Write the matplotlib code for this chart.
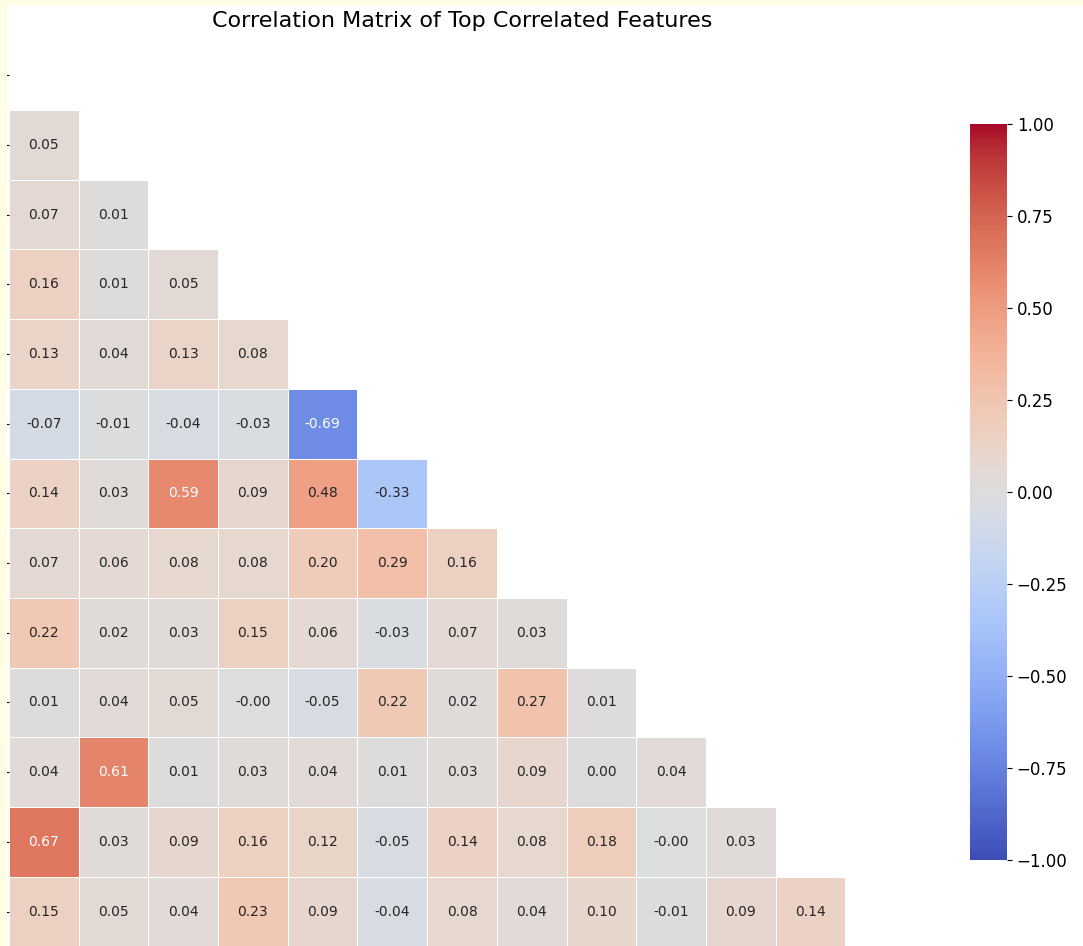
import numpy as np
import matplotlib
matplotlib.use("Agg")
import matplotlib.pyplot as plt
from matplotlib.colors import ListedColormap
from matplotlib.patches import Rectangle
import seaborn as sns

# lower-triangle correlation values (row i has i entries)
row_1 = [0.05]
row_2 = [0.07, 0.01]
row_3 = [0.16, 0.01, 0.05]
row_4 = [0.13, 0.04, 0.13, 0.08]
row_5 = [-0.07, -0.01, -0.04, -0.03, -0.69]
row_6 = [0.14, 0.03, 0.59, 0.09, 0.48, -0.33]
row_7 = [0.07, 0.06, 0.08, 0.08, 0.20, 0.29, 0.16]
row_8 = [0.22, 0.02, 0.03, 0.15, 0.06, -0.03, 0.07, 0.03]
row_9 = [0.01, 0.04, 0.05, -0.001, -0.05, 0.22, 0.02, 0.27, 0.01]
row_10 = [0.04, 0.61, 0.01, 0.03, 0.04, 0.01, 0.03, 0.09, 0.00, 0.04]
row_11 = [0.67, 0.03, 0.09, 0.16, 0.12, -0.05, 0.14, 0.08, 0.18, -0.001, 0.03]
row_12 = [0.15, 0.05, 0.04, 0.23, 0.09, -0.04, 0.08, 0.04, 0.10, -0.01, 0.09, 0.14]

rows = [row_1, row_2, row_3, row_4, row_5, row_6, row_7, row_8, row_9,
        row_10, row_11, row_12]
n = len(rows) + 1

# build the full symmetric matrix
corr = np.eye(n)
for i, vals in enumerate(rows, start=1):
    for j, v in enumerate(vals):
        corr[i, j] = v
        corr[j, i] = v

mask = np.triu(np.ones_like(corr, dtype=bool))

# coolwarm, slightly muted like the screenshot
base = plt.get_cmap("coolwarm")(np.linspace(0, 1, 256))
lum = (base[:, :3] @ np.array([0.299, 0.587, 0.114]))[:, None]
muted = base.copy()
muted[:, :3] = base[:, :3] * 0.9 + lum * 0.1
cmap = ListedColormap(muted)

W, H = 1083, 946
fig = plt.figure(figsize=(W / 100, H / 100), dpi=100)
fig.patch.set_facecolor("white")

ax = fig.add_axes([9 / W, -0.4 / H, 906 / W, 906 / H])
cax = fig.add_axes([970 / W, (H - 860) / H, 37 / W, 736 / H])

sns.heatmap(corr, mask=mask, annot=True, fmt=".2f", cmap=cmap,
            vmin=-1, vmax=1, linewidths=0.5, linecolor="white",
            annot_kws={"size": 10}, ax=ax, cbar_ax=cax,
            xticklabels=False, yticklabels=False)

ax.set_yticks(np.arange(n) + 0.5)
ax.set_yticklabels([])
ax.tick_params(axis="y", length=3.5, width=0.8)
ax.set_title("Correlation Matrix of Top Correlated Features", fontsize=16, pad=10)

cax.tick_params(labelsize=12)

# screenshot border (pale yellow strip on top and left)
fig.add_artist(Rectangle((0, 0), 7 / W, 1, transform=fig.transFigure,
                         facecolor="#fffde3", edgecolor="none", zorder=10))
fig.add_artist(Rectangle((0, 1 - 5 / H), 1, 5 / H, transform=fig.transFigure,
                         facecolor="#fffde3", edgecolor="none", zorder=10))

fig.savefig("out.png", dpi=100)
